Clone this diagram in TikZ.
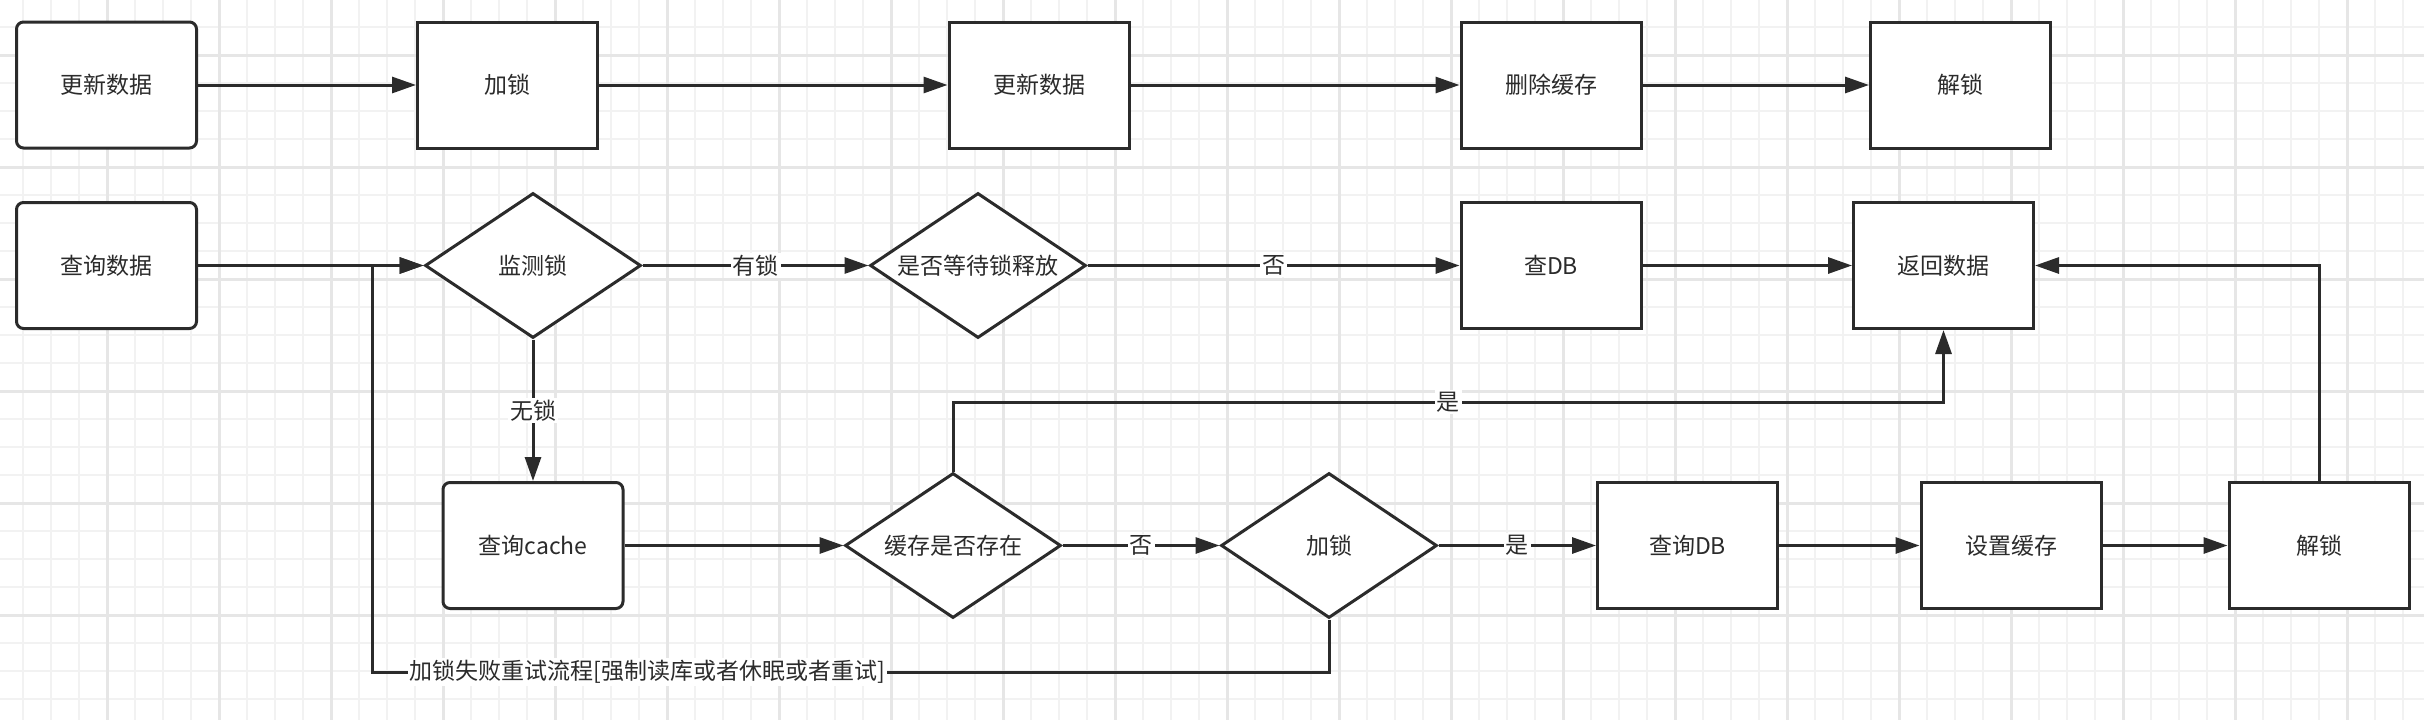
\documentclass[tikz,border=0pt]{standalone}
\usepackage{fontspec}
\setmainfont{Noto Sans CJK SC}
\usetikzlibrary{arrows.meta,shapes.geometric}
\definecolor{ink}{HTML}{2B2B2B}
\definecolor{gthin}{HTML}{F2F2F2}
\definecolor{gthick}{HTML}{E6E6E6}
\begin{document}
\begin{tikzpicture}[x=1pt,y=-1pt,
  box/.style={draw=ink,line width=3pt,fill=white,minimum width=180pt,minimum height=126pt,inner sep=0pt,font=\fontsize{23}{26}\selectfont,text=ink},
  rbox/.style={box,rounded corners=7pt},
  dia/.style={draw=ink,line width=3pt,fill=white,diamond,aspect=1.5,minimum width=216pt,minimum height=145pt,inner sep=0pt,font=\fontsize{23}{26}\selectfont,text=ink},
  arr/.style={draw=ink,line width=3pt,-{Triangle[length=24pt,width=16pt]}},
  conn/.style={draw=ink,line width=3pt},
  lbl/.style={fill=white,inner sep=2pt,font=\fontsize{23}{26}\selectfont,text=ink}]
\useasboundingbox (0,0) rectangle (2424,720);
\fill[white] (0,0) rectangle (2424,720);
% grid
\foreach \x in {23,51,...,2423} \draw[gthin,line width=2pt] (\x,0) -- (\x,720);
\foreach \y in {27,55,...,719} \draw[gthin,line width=2pt] (0,\y) -- (2424,\y);
\foreach \x in {107,219,...,2423} \draw[gthick,line width=3pt] (\x,0) -- (\x,720);
\foreach \y in {55,167,...,719} \draw[gthick,line width=3pt] (0,\y) -- (2424,\y);
% row 1
\node[rbox] (u1) at (106.5,85) {更新数据};
\node[box] (l1) at (507.5,85) {加锁};
\node[box] (u2) at (1039,85) {更新数据};
\node[box] (d1) at (1551,85) {删除缓存};
\node[box] (ul1) at (1960.5,85) {解锁};
% row 2
\node[rbox] (q1) at (106.5,265.5) {查询数据};
\node[dia] (mon) at (533,265.5) {监测锁};
\node[dia] (wait) at (978,265.5) {是否等待锁释放};
\node[box] (db1) at (1551,265.5) {查DB};
\node[box] (ret) at (1943.5,265.5) {返回数据};
% row 3
\node[rbox] (qc) at (533,545.5) {查询cache};
\node[dia] (ex) at (953,545.5) {缓存是否存在};
\node[dia] (l2) at (1329,545.5) {加锁};
\node[box] (qdb) at (1687.5,545.5) {查询DB};
\node[box] (sc) at (2011,545.5) {设置缓存};
\node[box] (ul2) at (2319,545.5) {解锁};
% helper coordinates
\coordinate (ytop) at (0,402);
\coordinate (lp) at (372,672);
% connectors row 1
\draw[arr] (u1) -- (l1);
\draw[arr] (l1) -- (u2);
\draw[arr] (u2) -- (d1);
\draw[arr] (d1) -- (ul1);
% row 2
\draw[arr] (q1) -- (mon);
\draw[arr] (mon) -- node[lbl] {有锁} (wait);
\draw[arr] (wait) -- node[lbl] {否} (db1);
\draw[arr] (db1) -- (ret);
\draw[arr] (mon.south) -- node[lbl] {无锁} (qc.north);
% row 3
\draw[arr] (qc) -- (ex);
\draw[arr] (ex) -- node[lbl] {否} (l2);
\draw[arr] (l2) -- node[lbl] {是} (qdb);
\draw[arr] (qdb) -- (sc);
\draw[arr] (sc) -- (ul2);
\draw[arr] (ul2.north) |- (ret.east);
\draw[arr] (ex.north) -- (ex.north |- ytop) -| node[lbl,pos=0.25] {是} (ret.south);
\draw[arr] (l2.south) |- node[lbl,pos=0.856] {加锁失败重试流程[强制读库或者休眠或者重试]} (lp) |- (mon.west);
\end{tikzpicture}
\end{document}
